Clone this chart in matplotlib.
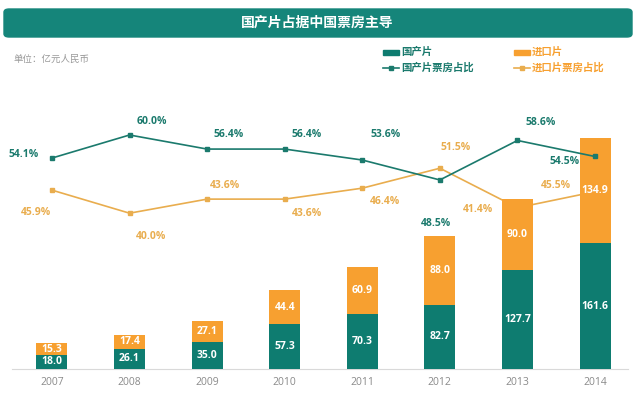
import numpy as np
import matplotlib.pyplot as plt
from matplotlib.patches import FancyBboxPatch, Rectangle
from matplotlib.lines import Line2D

plt.rcParams['font.family'] = ['Open Sans', 'Noto Sans CJK SC', 'DejaVu Sans']

years = ['2007', '2008', '2009', '2010', '2011', '2012', '2013', '2014']
domestic = [18.0, 26.1, 35.0, 57.3, 70.3, 82.7, 127.7, 161.6]
imported = [15.3, 17.4, 27.1, 44.4, 60.9, 88.0, 90.0, 134.9]
dom_share = [54.1, 60.0, 56.4, 56.4, 53.6, 48.5, 58.6, 54.5]
imp_share = [45.9, 40.0, 43.6, 43.6, 46.4, 51.5, 41.4, 45.5]

teal = '#0e7c70'
orange = '#f7a030'
teal_line = '#1b7a6d'
orange_line = '#e9ad4e'

# label offsets in pixels (dx, dy)
dom_off = [(-28, 4), (22, 13), (22, 15), (22, 15), (23, 26), (-4, -44), (23, 18), (-30, -5)]
imp_off = [(-16, -22), (22, -23), (18, 14), (22, -14), (23, -13), (16, 21), (-39, -2), (-39, 6)]

fig = plt.figure(figsize=(6.4, 4.0), dpi=100)
W, H = 640, 400

# title banner
fig.patches.append(FancyBboxPatch((4 / W, 1 - 37 / H), 628 / W, 28 / H,
                                  boxstyle='round,pad=0,rounding_size=0.008',
                                  transform=fig.transFigure, color='#15857a', zorder=0))
fig.text(0.496, 1 - 23 / H, '国产片占据中国票房主导', color='white', fontsize=10,
         fontweight='bold', ha='center', va='center')
fig.text(14 / W, 1 - 59 / H, '单位：亿元人民币', color='#999999', fontsize=6.8, va='center')

# legend
fig.patches.append(Rectangle((383 / W, 1 - 54.5 / H), 16 / W, 5 / H, transform=fig.transFigure, color=teal))
fig.text(401 / W, 1 - 52 / H, '国产片', color=teal_line, fontsize=7.5, fontweight='bold', va='center')
fig.patches.append(Rectangle((514 / W, 1 - 54.5 / H), 16 / W, 5 / H, transform=fig.transFigure, color=orange))
fig.text(532 / W, 1 - 52 / H, '进口片', color=orange, fontsize=7.5, fontweight='bold', va='center')
fig.lines.append(Line2D([383 / W, 391 / W, 399 / W], [1 - 68 / H] * 3, transform=fig.transFigure,
                        color=teal_line, lw=1.2, marker='s', markersize=3, markevery=[1]))
fig.text(401 / W, 1 - 68 / H, '国产片票房占比', color=teal_line, fontsize=7.5, fontweight='bold', va='center')
fig.lines.append(Line2D([514 / W, 522 / W, 530 / W], [1 - 68 / H] * 3, transform=fig.transFigure,
                        color=orange_line, lw=1.2, marker='s', markersize=3, markevery=[1]))
fig.text(532 / W, 1 - 68 / H, '进口片票房占比', color=orange, fontsize=7.5, fontweight='bold', va='center')

rect = [12 / W, 31 / H, 616 / W, 269 / H]
x = np.arange(len(years))

# imported share line sits behind the bars
ax_imp = fig.add_axes(rect, zorder=1)
ax_imp.plot(x, imp_share, color=orange_line, lw=1.2, marker='s', markersize=3)
ax_imp.set_xlim(-0.515, 7.425)
ax_imp.set_ylim(0.15, 68.95)
ax_imp.axis('off')

# bars
ax = fig.add_axes(rect, zorder=2)
ax.bar(x, domestic, width=0.4, color=teal, zorder=3)
ax.bar(x, imported, width=0.4, bottom=domestic, color=orange, zorder=3)
for i in range(len(years)):
    ax.text(x[i], domestic[i] / 2, f'{domestic[i]:.1f}', color='white', fontsize=7.5,
            fontweight='bold', ha='center', va='center', zorder=4)
    ax.text(x[i], domestic[i] + imported[i] / 2, f'{imported[i]:.1f}', color='white', fontsize=7.5,
            fontweight='bold', ha='center', va='center', zorder=4)
ax.set_xlim(-0.515, 7.425)
ax.set_ylim(0, 345.3)
ax.set_yticks([])
ax.set_xticks(x)
ax.set_xticklabels(years, color='#8a8a8a', fontsize=7.5)
ax.tick_params(axis='x', length=0, pad=6)
for s in ['top', 'right', 'left']:
    ax.spines[s].set_visible(False)
ax.spines['bottom'].set_color('#d9d9d9')
ax.patch.set_alpha(0)

# domestic share line on top, plus all share labels
ax2 = fig.add_axes(rect, zorder=3)
ax2.set_xlim(-0.515, 7.425)
ax2.set_ylim(0.15, 68.95)
ax2.axis('off')
ax2.plot(x, dom_share, color=teal_line, lw=1.2, marker='s', markersize=3)
for i in range(len(years)):
    ax2.annotate(f'{dom_share[i]:.1f}%', (x[i], dom_share[i]), xytext=dom_off[i],
                 textcoords='offset pixels', color=teal_line, fontsize=7.5, fontweight='bold',
                 ha='center', va='center')
    ax2.annotate(f'{imp_share[i]:.1f}%', (x[i], imp_share[i]), xytext=imp_off[i],
                 textcoords='offset pixels', color=orange_line, fontsize=7.5, fontweight='bold',
                 ha='center', va='center')

fig.savefig('out.png', dpi=100, facecolor='white')
